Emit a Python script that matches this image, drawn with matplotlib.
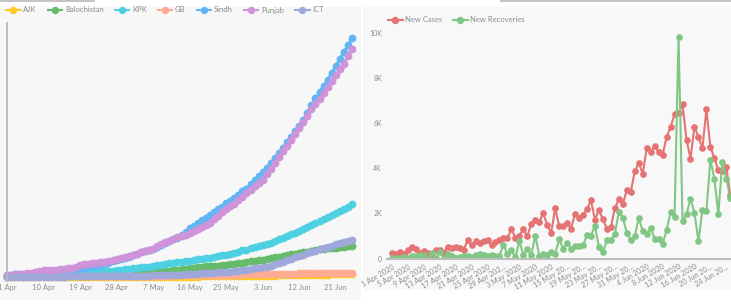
import numpy as np
import matplotlib
matplotlib.use("Agg")
import matplotlib.pyplot as plt
from matplotlib.lines import Line2D
from matplotlib.patches import Rectangle

plt.rcParams['font.family'] = ['Lato', 'DejaVu Sans']

# ---- left chart: cumulative cases by province, 1 Apr .. 25 Jun 2020 ----
provinces = ['AJK', 'Balochistan', 'KPK', 'GB', 'Sindh', 'Punjab', 'ICT']
province_colors = ['#ffca28', '#66bb6a', '#4dd0e1', '#ffab91', '#64b5f6', '#ce93d8', '#9fa8da']
left_tick_labels = ['1 Apr', '10 Apr', '19 Apr', '28 Apr', '7 May', '16 May', '25 May', '3 Jun', '12 Jun', '21 Jun']

ajk = [9, 9, 9, 11, 11, 11, 11, 16, 18, 18,
       27, 33, 39, 43, 44, 45, 46, 46, 49,
       49, 50, 51, 53, 54, 54, 56, 57, 59,
       60, 62, 64, 67, 69, 71, 73, 76, 81,
       86, 92, 96, 98, 106, 114, 127, 134, 141,
       146, 154, 162, 172, 180, 190, 199, 208, 219,
       235, 252, 268, 281, 298, 311, 328, 347, 370,
       397, 425, 455, 486, 512, 540, 569, 594, 617,
       640, 665, 688, 712, 737, 761, 786, 808, 832, 855, 880, 905, 930]
balochistan = [158, 169, 175, 189, 191, 192, 202, 212, 217, 220,
               228, 230, 240, 247, 266, 277, 289, 326, 391,
               391, 428, 495, 550, 620, 648, 781, 809, 853,
               922, 1005, 1172, 1218, 1408, 1476, 1495, 1611, 1725,
               1820, 1935, 2017, 2061, 2100, 2241, 2457, 2544, 2820,
               2968, 3074, 3306, 3407, 3467, 3536, 3613, 3765, 3928,
               4087, 4193, 4393, 4514, 4834, 4958, 5224, 5407, 5582,
               5765, 6009, 6280, 6516, 6788, 7031, 7205, 7473, 7673,
               7866, 8066, 8327, 8520, 8794, 8955, 9119, 9290, 9425, 9560, 9690, 9800, 9910]
kpk = [253, 276, 311, 343, 372, 405, 452, 500, 560, 620,
       656, 697, 744, 800, 865, 912, 1077, 1137, 1276,
       1345, 1453, 1541, 1609, 1708, 1793, 1864, 2013, 2160,
       2313, 2453, 2627, 2781, 2907, 3039, 3129, 3288, 3499,
       3712, 3956, 4080, 4323, 4509, 4669, 4875, 5105, 5252,
       5413, 5678, 5847, 6125, 6230, 6465, 6702, 6876, 7155,
       7336, 7685, 8080, 8483, 8778, 9167, 9480, 9800, 10127,
       10585, 10980, 11473, 12014, 12544, 13021, 13587, 14106, 14627,
       15250, 15890, 16515, 17150, 17780, 18400, 19020, 19660, 20320, 20980, 21660, 22400, 23200]
gb = [187, 190, 193, 193, 209, 213, 213, 215, 215, 215,
      216, 216, 220, 224, 231, 233, 233, 235, 245,
      256, 261, 283, 290, 300, 307, 308, 323, 327,
      331, 340, 348, 356, 363, 370, 376, 386, 420,
      432, 442, 454, 471, 492, 515, 531, 550, 564,
      584, 603, 616, 635, 657, 677, 701, 711, 724,
      740, 758, 785, 806, 832, 851, 877, 905, 928,
      950, 977, 991, 1011, 1035, 1066, 1087, 1110, 1132,
      1150, 1168, 1182, 1200, 1214, 1227, 1241, 1253, 1265, 1276, 1290, 1302, 1315]
sindh = [743, 783, 830, 881, 932, 986, 1036, 1128, 1214, 1318,
         1411, 1452, 1518, 1668, 1760, 1908, 2217, 2355, 2764,
         2921, 3053, 3373, 3671, 3945, 4232, 4615, 4956, 5291,
         5695, 6053, 6336, 7102, 7465, 7882, 8189, 8640, 9093,
         9691, 10291, 10771, 11480, 12017, 12610, 13341, 14320, 15590,
         16387, 17241, 18108, 18964, 19924, 20883, 21645, 22491, 23507,
         24206, 25309, 26113, 27360, 28245, 29647, 30889, 32200, 33536,
         34889, 36364, 37999, 39555, 41303, 43074, 44828, 46500, 48157,
         50311, 52459, 54928, 57050, 59142, 61151, 63081, 65278, 67350, 69628, 71930, 74117, 76318]
punjab = [708, 740, 845, 920, 1072, 1163, 1234, 1493, 1918, 2108,
          2171, 2279, 2336, 2425, 2594, 2826, 2945, 3291, 3822,
          3995, 4195, 4328, 4575, 4706, 4925, 5141, 5378, 5827,
          6061, 6340, 6827, 7106, 7494, 8103, 8420, 8693, 9077,
          9779, 10471, 11093, 11568, 12051, 12730, 13248, 13551, 14201,
          14817, 15346, 15976, 16505, 17382, 18455, 19557, 20654, 21649,
          22637, 23482, 24451, 25481, 26692, 27850, 28959, 30033, 31104,
          32880, 34650, 36400, 38250, 40100, 42000, 43900, 45700, 47500,
          49500, 51500, 53600, 55300, 57000, 58900, 60700, 62600, 64400, 66300, 68100, 70500, 72880]
ict = [54, 62, 75, 82, 83, 92, 102, 107, 113, 119,
       122, 131, 138, 147, 154, 165, 171, 185, 194,
       203, 214, 221, 232, 249, 263, 274, 285, 297,
       317, 343, 362, 393, 411, 428, 455, 470, 493,
       531, 565, 608, 641, 669, 725, 774, 825, 875,
       949, 1040, 1134, 1235, 1328, 1421, 1509, 1552, 1592,
       1728, 1870, 2015, 2202, 2393, 2589, 2729, 2893, 3049,
       3342, 3651, 4023, 4479, 4929, 5385, 5836, 6240, 6700,
       7132, 7551, 7960, 8417, 8880, 9270, 9640, 10045, 10387, 10800, 11173, 11520, 11850]

# ---- right chart: daily new cases / recoveries ----
right_tick_labels = ['1 Apr 2020', '5 Apr 2020', '9 Apr 2020', '13 Apr 2020', '17 Apr 2020',
                     '21 Apr 2020', '25 Apr 2020', '29 Apr 202...', '3 May 2020', '7 May 2020',
                     '11 May 2020', '15 May 20...', '19 May 20...', '23 May 20...', '27 May 20...',
                     '31 May 20...', '4 Jun 2020', '8 Jun 2020', '12 Jun 2020', '16 Jun 2020',
                     '20 Jun 20...', '24 Jun 20...']
y_tick_labels = ['0', '2K', '4K', '6K', '8K', '10K']

new_cases = [250, 210, 280, 210, 390, 530, 430, 250, 330, 250,
             130, 360, 360, 250, 530, 470, 500, 460, 390, 800,
             580, 760, 680, 770, 800, 580, 740, 800, 900, 930,
             1290, 930, 1020, 1290, 980, 1540, 1720,
             1610, 2020, 1470, 1140, 2240, 1440, 1440, 1590, 1320, 1990,
             1810, 1930, 2180, 2580, 1720, 2160, 1730, 1320, 1390, 2240,
             2620, 2430, 3020, 2950, 3870, 4240, 3760, 4900, 4730, 4980,
             4730, 4610, 5390, 5840, 6400, 6470, 6830, 5270, 4430, 5840,
             5390, 4900, 6610, 4950, 4460, 3910, 3880, 4060, 2800]
new_recoveries = [15, 15, 30, 60, 30, 130, 130, 160, 160, 0,
                  250, 15, 280, 30, 190, 90, 30, 60, 90, 90,
                  75, 160, 190, 160, 90, 160, 130, 130, 610, 190,
                  360, 45, 770, 160, 400, 160, 1020,
                  130, 190, 150, 300, 190, 870, 430, 700, 430, 550,
                  550, 580, 1050, 1020, 1440, 500, 280, 800, 800, 1100,
                  2060, 1810, 1140, 800, 990, 1790, 1220, 1070, 1360, 870,
                  870, 650, 1270, 2060, 1840, 9840, 1660, 1960, 2650, 2030,
                  760, 2160, 2100, 4390, 3540, 1990, 4280, 3540, 2700]

W, H = 731, 304
TXT = '#8c8c8c'


def box(x0, y0, x1, y1):
    # pixel box (top-left origin) -> figure fraction rect
    return [x0 / W, 1 - y1 / H, (x1 - x0) / W, (y1 - y0) / H]


fig = plt.figure(figsize=(W / 100, H / 100), dpi=100)

# panel backgrounds and the little grey bars at the top of the screenshot
for rect, col in [(box(0, 7, 361, 300), '#f7f7f7'), (box(363, 7, 731, 290), '#f8f8f8'),
                  (box(0, 0, 95, 2), '#c4c4c4'), (box(500, 0, 731, 1.5), '#c4c4c4')]:
    fig.add_artist(Rectangle((rect[0], rect[1]), rect[2], rect[3],
                             transform=fig.transFigure, color=col, zorder=0, lw=0))

# left chart
ax1 = fig.add_axes(box(7, 23, 356, 280))
ax1.set_facecolor('none')
days = np.arange(len(sindh))
series = [ajk, balochistan, kpk, gb, sindh, punjab, ict]
handles = []
for name, col, vals in zip(provinces, province_colors, series):
    ax1.plot(days, vals, color=col, lw=2, marker='o', ms=4.6, mec=col, clip_on=False)
    handles.append(Line2D([], [], color=col, lw=1.5, marker='o', ms=4.3, mec=col))
ax1.set_xlim(0.12, 85.98)
ax1.set_ylim(-958, 81150)
for s in ['top', 'right', 'bottom']:
    ax1.spines[s].set_visible(False)
ax1.spines['left'].set_color('#b8b8b8')
ax1.spines['left'].set_linewidth(1.3)
ax1.set_yticks([])
ax1.set_xticks(np.arange(0, 82, 9))
ax1.set_xticklabels(left_tick_labels)
ax1.tick_params(axis='x', length=0, pad=3, labelsize=5.5, labelcolor=TXT)

fig.legend(handles, provinces, loc='center left', bbox_to_anchor=(6 / W, 1 - 10 / H),
           ncol=7, frameon=False, fontsize=5.5, handlelength=1.9, handletextpad=0.35,
           columnspacing=1.45, labelcolor=TXT, borderpad=0, borderaxespad=0)

# right chart
ax2 = fig.add_axes(box(387, 25, 731, 259))
ax2.set_facecolor('none')
rdays = np.arange(len(new_cases))
ax2.plot(rdays, new_cases, color='#e57373', lw=1.5, marker='o', ms=3.8, mec='#e57373')
ax2.plot(rdays, new_recoveries, color='#81c784', lw=1.5, marker='o', ms=3.8, mec='#81c784')
ax2.set_xlim(-1.26, 85.18)
ax2.set_ylim(-22, 10355)
for s in ['top', 'right', 'left']:
    ax2.spines[s].set_visible(False)
ax2.spines['bottom'].set_color('#bdbdbd')
ax2.spines['bottom'].set_linewidth(1.5)
ax2.set_yticks(np.arange(0, 10001, 2000))
ax2.set_yticklabels(y_tick_labels)
ax2.tick_params(axis='y', length=0, pad=3.6, labelsize=5, labelcolor=TXT)
ax2.set_xticks(np.arange(0, 85, 4))
ax2.set_xticklabels(right_tick_labels, rotation=30, ha='right', rotation_mode='anchor')
ax2.tick_params(axis='x', length=0, pad=3, labelsize=5.2, labelcolor=TXT)

rhandles = [Line2D([], [], color='#e57373', lw=1.5, marker='o', ms=4.3, mec='#e57373'),
            Line2D([], [], color='#81c784', lw=1.5, marker='o', ms=4.3, mec='#81c784')]
fig.legend(rhandles, ['New Cases', 'New Recoveries'], loc='center left',
           bbox_to_anchor=(388 / W, 1 - 20 / H), ncol=2, frameon=False, fontsize=5.5,
           handlelength=1.9, handletextpad=0.35, columnspacing=1.4, labelcolor=TXT,
           borderpad=0, borderaxespad=0)

fig.savefig('out.png', dpi=100)
